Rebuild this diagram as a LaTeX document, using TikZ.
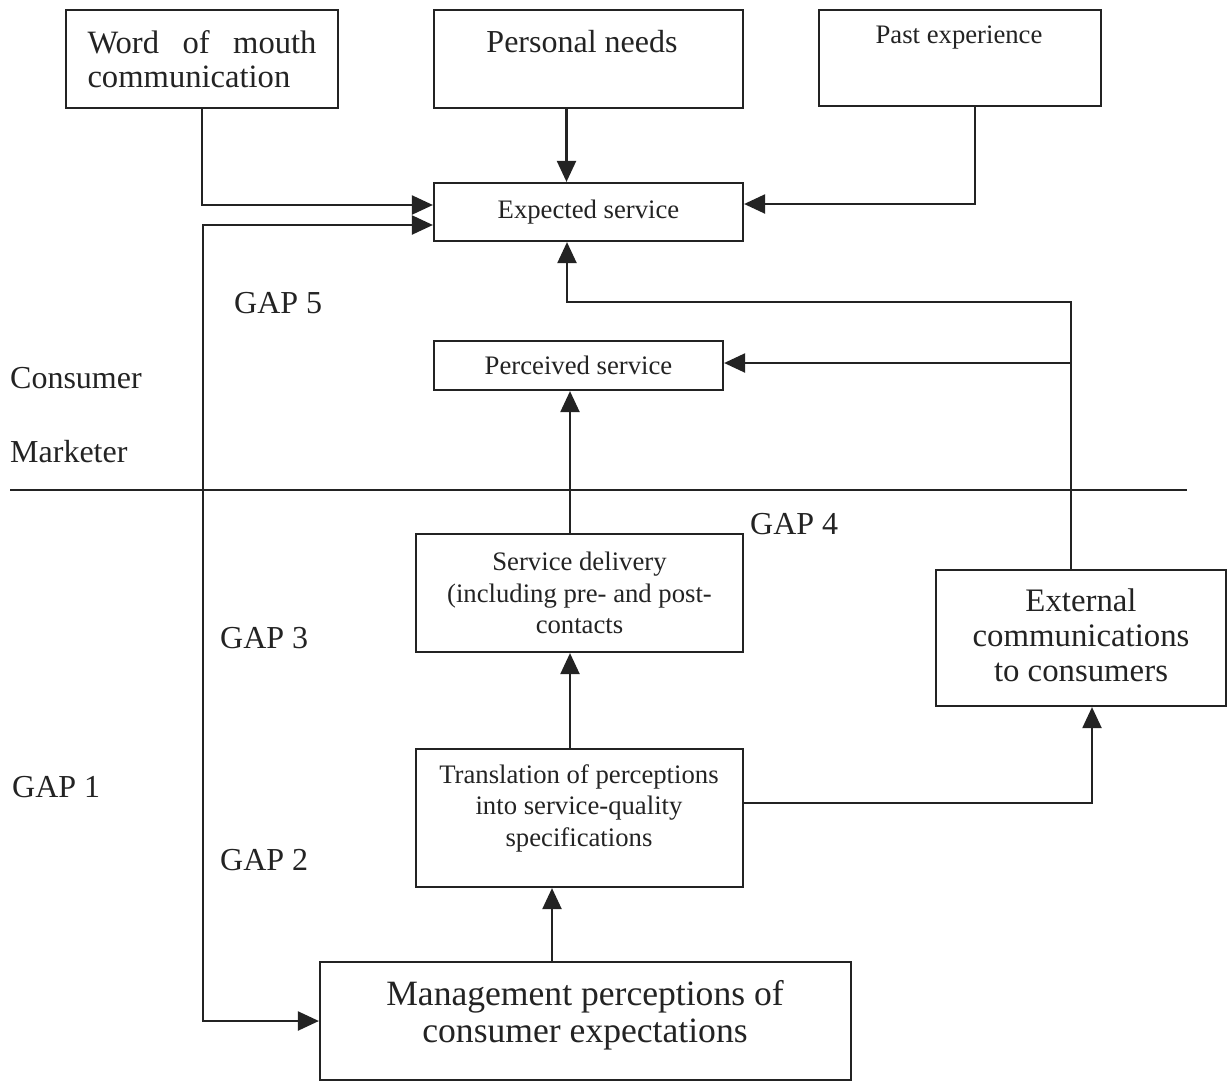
\documentclass[tikz,border=0pt]{standalone}
\usepackage{fontspec}
\setmainfont{Liberation Serif}
\usetikzlibrary{arrows.meta}
\definecolor{ink}{RGB}{35,35,35}
\newcommand\fsm{\fontsize{26.7}{31.5}\selectfont}
\newcommand\fgap{\fontsize{32}{36}\selectfont}
\newcommand\fbig{\fontsize{32.6}{34}\selectfont}
\newcommand\fext{\fontsize{32.8}{35}\selectfont}
\newcommand\fmgmt{\fontsize{35.6}{37}\selectfont}
\begin{document}
\begin{tikzpicture}[x=1pt,y=-1pt,
  box/.style={draw=ink, line width=2.2pt, inner sep=0pt, align=center, text=ink},
  lab/.style={inner sep=0pt, text=ink, align=center},
  arr/.style={draw=ink, line width=2.2pt, -{Triangle[length=21pt,width=19pt]}},
  darr/.style={draw=ink, line width=2.2pt, {Triangle[length=21pt,width=19pt]}-{Triangle[length=21pt,width=19pt]}},
  plain/.style={draw=ink, line width=2.2pt}]
\useasboundingbox (0,0) rectangle (1229,1082);
\fill[white] (0,0) rectangle (1229,1082);

% boxes
\node[box, minimum width=272pt, minimum height=98pt, font=\fbig, align=left] (wom) at (202,59)
  {\makebox[229pt][s]{Word of mouth}\\communication};
\node[box, minimum width=309pt, minimum height=98pt] (pn) at (588.5,59) {};
\node[lab, font=\fgap] (pnt) at (582,42) {Personal needs};
\node[box, minimum width=282pt, minimum height=96pt] (pe) at (960,58) {};
\node[lab, font=\fsm] (pet) at (959,38) {Past experience};
\node[box, minimum width=309pt, minimum height=58pt, font=\fsm] (es) at (588.5,212) {Expected service};
\node[box, minimum width=289pt, minimum height=49pt, font=\fsm] (ps) at (578.5,365.5) {Perceived service};
\node[box, minimum width=327pt, minimum height=118pt, font=\fsm] (sd) at (579.5,593)
  {Service delivery\\(including pre- and post-\\contacts};
\node[box, minimum width=290pt, minimum height=136pt] (ec) at (1081,638) {};
\node[lab, font=\fext] (ect) at (1081,635) {External\\communications\\to consumers};
\node[box, minimum width=327pt, minimum height=138pt] (tr) at (579.5,818) {};
\node[lab, font=\fsm] (trt) at (579,808) {Translation of perceptions\\into service-quality\\specifications};
\node[box, minimum width=531pt, minimum height=118pt] (mp) at (585.5,1021) {};
\node[lab, font=\fmgmt] (mpt) at (585,1015) {Management perceptions of\\consumer expectations};

% side labels
\node[lab, font=\fgap, anchor=west] (cons) at (10,378) {Consumer};
\node[lab, font=\fgap, anchor=west] (mark) at (10,452) {Marketer};
\node[lab, font=\fgap, anchor=west] (gap5) at (234,303) {GAP 5};
\node[lab, font=\fgap, anchor=west] (gap4) at (750,524) {GAP 4};
\node[lab, font=\fgap, anchor=west] (gap3) at (220,638) {GAP 3};
\node[lab, font=\fgap, anchor=west] (gap1) at (12,787) {GAP 1};
\node[lab, font=\fgap, anchor=west] (gap2) at (220,860) {GAP 2};

% divider
\coordinate (dl) at (10,490);
\coordinate (dr) at (1187,490);
\draw[plain] (dl) -- (dr);

% connectors
\coordinate (womc) at (202,205);
\draw[arr] (wom.south) -- (womc) -- (womc -| es.west);

\coordinate (g5top) at (203,225);
\coordinate (g5bot) at (203,1021);
\draw[darr] (g5top -| es.west) -- (g5top) -- (g5bot) -- (mp.west);

\draw[arr] ([xshift=-22pt]pn.south) -- ([xshift=-22pt]es.north);

\coordinate (pec) at (975,204);
\draw[arr] (pec |- pe.south) -- (pec) -- (pec -| es.east);

\coordinate (ecb) at (567,302);
\coordinate (ecx) at (1071,302);
\draw[arr] (ecx |- ec.north) -- (ecx) -- (ecb) -- (ecb |- es.south);
\coordinate (ecp) at (1071,363);
\draw[arr] (ecp) -- (ecp -| ps.east);

\coordinate (cx) at (570,0);
\draw[arr] (cx |- sd.north) -- (cx |- ps.south);
\draw[arr] (cx |- tr.north) -- (cx |- sd.south);

\coordinate (mx) at (552,0);
\draw[arr] (mx |- mp.north) -- (mx |- tr.south);

\coordinate (trc) at (1092,803);
\draw[arr] (trc -| tr.east) -- (trc) -- (trc |- ec.south);
\end{tikzpicture}
\end{document}
